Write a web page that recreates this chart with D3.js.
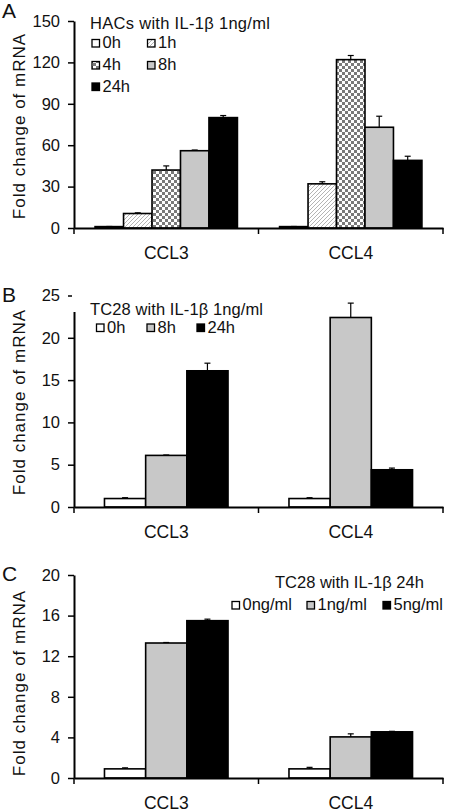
<!DOCTYPE html>
<html><head><meta charset="utf-8">
<script src="https://cdn.jsdelivr.net/npm/d3@7"></script>
<style>
html,body{margin:0;padding:0;background:#fff;}
svg{display:block;font-family:"Liberation Sans",Arial,sans-serif;}
</style></head>
<body><svg id="c" width="450" height="812"></svg>
<script>
// ---- data ----
const categories = ["CCL3", "CCL4"];

const seriesA = ["0h", "1h", "4h", "8h", "24h"];
const valuesA_CCL3 = [1, 10.5, 42, 56, 80];
const errorsA_CCL3 = [0.1, 0.5, 3, 0.5, 1.5];
const valuesA_CCL4 = [1, 32, 122, 73, 49];
const errorsA_CCL4 = [0.1, 1.5, 3, 8, 3];
const ticksA = [0, 30, 60, 90, 120, 150];
const titleA = "HACs with IL-1β 1ng/ml";

const seriesB = ["0h", "8h", "24h"];
const valuesB_CCL3 = [1, 6.1, 16.1];
const errorsB_CCL3 = [0.1, 0.05, 0.9];
const valuesB_CCL4 = [1, 22.4, 4.4];
const errorsB_CCL4 = [0.1, 1.7, 0.2];
const ticksB = [0, 5, 10, 15, 20, 25];
const titleB = "TC28 with IL-1β 1ng/ml";

const seriesC = ["0ng/ml", "1ng/ml", "5ng/ml"];
const valuesC_CCL3 = [0.9, 13.3, 15.5];
const errorsC_CCL3 = [0.1, 0.05, 0.15];
const valuesC_CCL4 = [0.9, 4.05, 4.55];
const errorsC_CCL4 = [0.15, 0.3, 0.05];
const ticksC = [0, 4, 8, 12, 16, 20];
const titleC = "TC28 with IL-1β 24h";

const yTitle = "Fold change of mRNA";

// ---- drawing ----
const svg = d3.select("#c");
const defs = svg.append("defs");
const hatch = defs.append("pattern").attr("id","hatch").attr("patternUnits","userSpaceOnUse")
  .attr("width",4).attr("height",4);
hatch.append("rect").attr("width",4).attr("height",4).attr("fill","#fff");
hatch.append("path").attr("d","M-1,1 L1,-1 M0,4 L4,0 M3,5 L5,3").attr("stroke","#b4b4b4").attr("stroke-width",1);
const checker = defs.append("pattern").attr("id","checker").attr("patternUnits","userSpaceOnUse")
  .attr("width",6).attr("height",6);
checker.append("rect").attr("width",6).attr("height",6).attr("fill","#fff");
checker.append("rect").attr("width",3).attr("height",3).attr("fill","#7a7a7a");
checker.append("rect").attr("x",3).attr("y",3).attr("width",3).attr("height",3).attr("fill","#7a7a7a");

const fills = {"0h":"#fff","1h":"url(#hatch)","4h":"url(#checker)","8h":"#c8c8c8","24h":"#000",
  "0ng/ml":"#fff","1ng/ml":"#c8c8c8","5ng/ml":"#000"};

const FS = 16.5;

function panel(opt){
  const g = svg.append("g");
  const y = d3.scaleLinear().domain([0, opt.ticks[opt.ticks.length-1]]).range([opt.y0, opt.y1]);
  const x0 = d3.scaleBand().domain(categories).range([74, 443]);
  const x1 = d3.scaleBand().domain(opt.series).range([0, x0.bandwidth()]).paddingOuter(0.74);

  const data = [];
  categories.forEach((c, ci) => {
    const vals = opt.values[ci], errs = opt.errors[ci];
    opt.series.forEach((s, si) => data.push({c, s, v: vals[si], e: errs[si]}));
  });

  // bars
  g.selectAll("rect.bar").data(data).join("rect").attr("class","bar")
    .attr("x", d => x0(d.c) + x1(d.s))
    .attr("y", d => y(d.v))
    .attr("width", x1.bandwidth())
    .attr("height", d => y(0) - y(d.v))
    .attr("fill", d => fills[d.s])
    .attr("stroke", "#000").attr("stroke-width", 1.6);
  // error bars
  const eb = g.selectAll("g.err").data(data).join("g").attr("class","err");
  eb.append("line")
    .attr("x1", d => x0(d.c) + x1(d.s) + x1.bandwidth()/2)
    .attr("x2", d => x0(d.c) + x1(d.s) + x1.bandwidth()/2)
    .attr("y1", d => y(d.v)).attr("y2", d => y(d.v + d.e))
    .attr("stroke","#000").attr("stroke-width",1.2);
  eb.append("line")
    .attr("x1", d => x0(d.c) + x1(d.s) + x1.bandwidth()/2 - 3)
    .attr("x2", d => x0(d.c) + x1(d.s) + x1.bandwidth()/2 + 3)
    .attr("y1", d => y(d.v + d.e)).attr("y2", d => y(d.v + d.e))
    .attr("stroke","#000").attr("stroke-width",1.2);

  // y axis
  const ya = g.append("g").attr("transform","translate(74,0)")
    .call(d3.axisLeft(y).tickValues(opt.ticks).tickSize(6).tickPadding(8).tickSizeOuter(0));
  ya.select(".domain").attr("stroke","#000").attr("stroke-width",2);
  ya.selectAll(".tick line").attr("stroke","#000").attr("stroke-width",1.5);
  ya.selectAll("text").attr("font-size",FS).attr("font-family","Liberation Sans, Arial, sans-serif").attr("fill","#111");

  // x axis
  const xa = g.append("g").attr("transform",`translate(0,${opt.y0})`)
    .call(d3.axisBottom(x0).tickSize(0).tickPadding(19));
  xa.select(".domain").attr("stroke","#000").attr("stroke-width",2);
  xa.selectAll("text").attr("font-size",17.5).attr("font-family","Liberation Sans, Arial, sans-serif").attr("fill","#111");
  // boundary ticks between categories
  const bounds = [x0.range()[0]].concat(categories.map(c => x0(c) + x0.bandwidth()));
  g.selectAll("line.bt").data(bounds).join("line").attr("class","bt")
    .attr("x1", d => d).attr("x2", d => d)
    .attr("y1", opt.y0).attr("y2", opt.y0 + 6)
    .attr("stroke","#000").attr("stroke-width",1.5);

  // y title
  g.append("text").attr("transform",`translate(${opt.titleX},${opt.titleY}) rotate(-90)`)
    .attr("text-anchor","middle").attr("font-size",17).attr("letter-spacing",1)
    .attr("fill","#111").text(yTitle);

  // panel letter
  g.append("text").attr("x",2).attr("y",opt.letterY).attr("font-size",21).attr("fill","#111").text(opt.letter);

  return {g, y};
}

function legendItem(g, s, x, yb){
  g.append("rect").attr("x",x).attr("y",yb-8.5).attr("width",7.5).attr("height",7.5)
    .attr("fill",fills[s]).attr("stroke","#000").attr("stroke-width",1.3);
  g.append("text").attr("x",x+10.5).attr("y",yb).attr("font-size",FS).attr("fill","#111").text(s);
}

// Panel A
const pA = panel({series:seriesA, values:[valuesA_CCL3, valuesA_CCL4], errors:[errorsA_CCL3, errorsA_CCL4],
  ticks:ticksA, y0:228, y1:21, titleX:25, titleY:126, letter:"A", letterY:18});
pA.g.append("text").attr("x",90).attr("y",28.5).attr("font-size",FS).attr("letter-spacing",0.3).attr("fill","#111").text(titleA);
[[0,92,48],[1,147.5,48],[2,92,70],[3,147.5,70],[4,92,91.5]].forEach(([i,x,yb]) => legendItem(pA.g, seriesA[i], x, yb));

// Panel B
const pB = panel({series:seriesB, values:[valuesB_CCL3, valuesB_CCL4], errors:[errorsB_CCL3, errorsB_CCL4],
  ticks:ticksB, y0:507, y1:295.5, titleX:25, titleY:402, letter:"B", letterY:302});
pB.g.append("rect").attr("x",72).attr("y",293).attr("width",200).attr("height",19).attr("fill","#fff");
pB.g.append("text").attr("x",90).attr("y",315).attr("font-size",FS).attr("letter-spacing",0.1).attr("fill","#111").text(titleB);
[[0,96.5],[1,147],[2,197]].forEach(([i,x]) => legendItem(pB.g, seriesB[i], x, 332.5));

// Panel C
const pC = panel({series:seriesC, values:[valuesC_CCL3, valuesC_CCL4], errors:[errorsC_CCL3, errorsC_CCL4],
  ticks:ticksC, y0:778, y1:575, titleX:25, titleY:683, letter:"C", letterY:581});
pC.g.append("text").attr("x",275).attr("y",588).attr("font-size",FS).attr("fill","#111").text(titleC);
[[0,232],[1,307],[2,383]].forEach(([i,x]) => legendItem(pC.g, seriesC[i], x, 610));
</script>
</body></html>
